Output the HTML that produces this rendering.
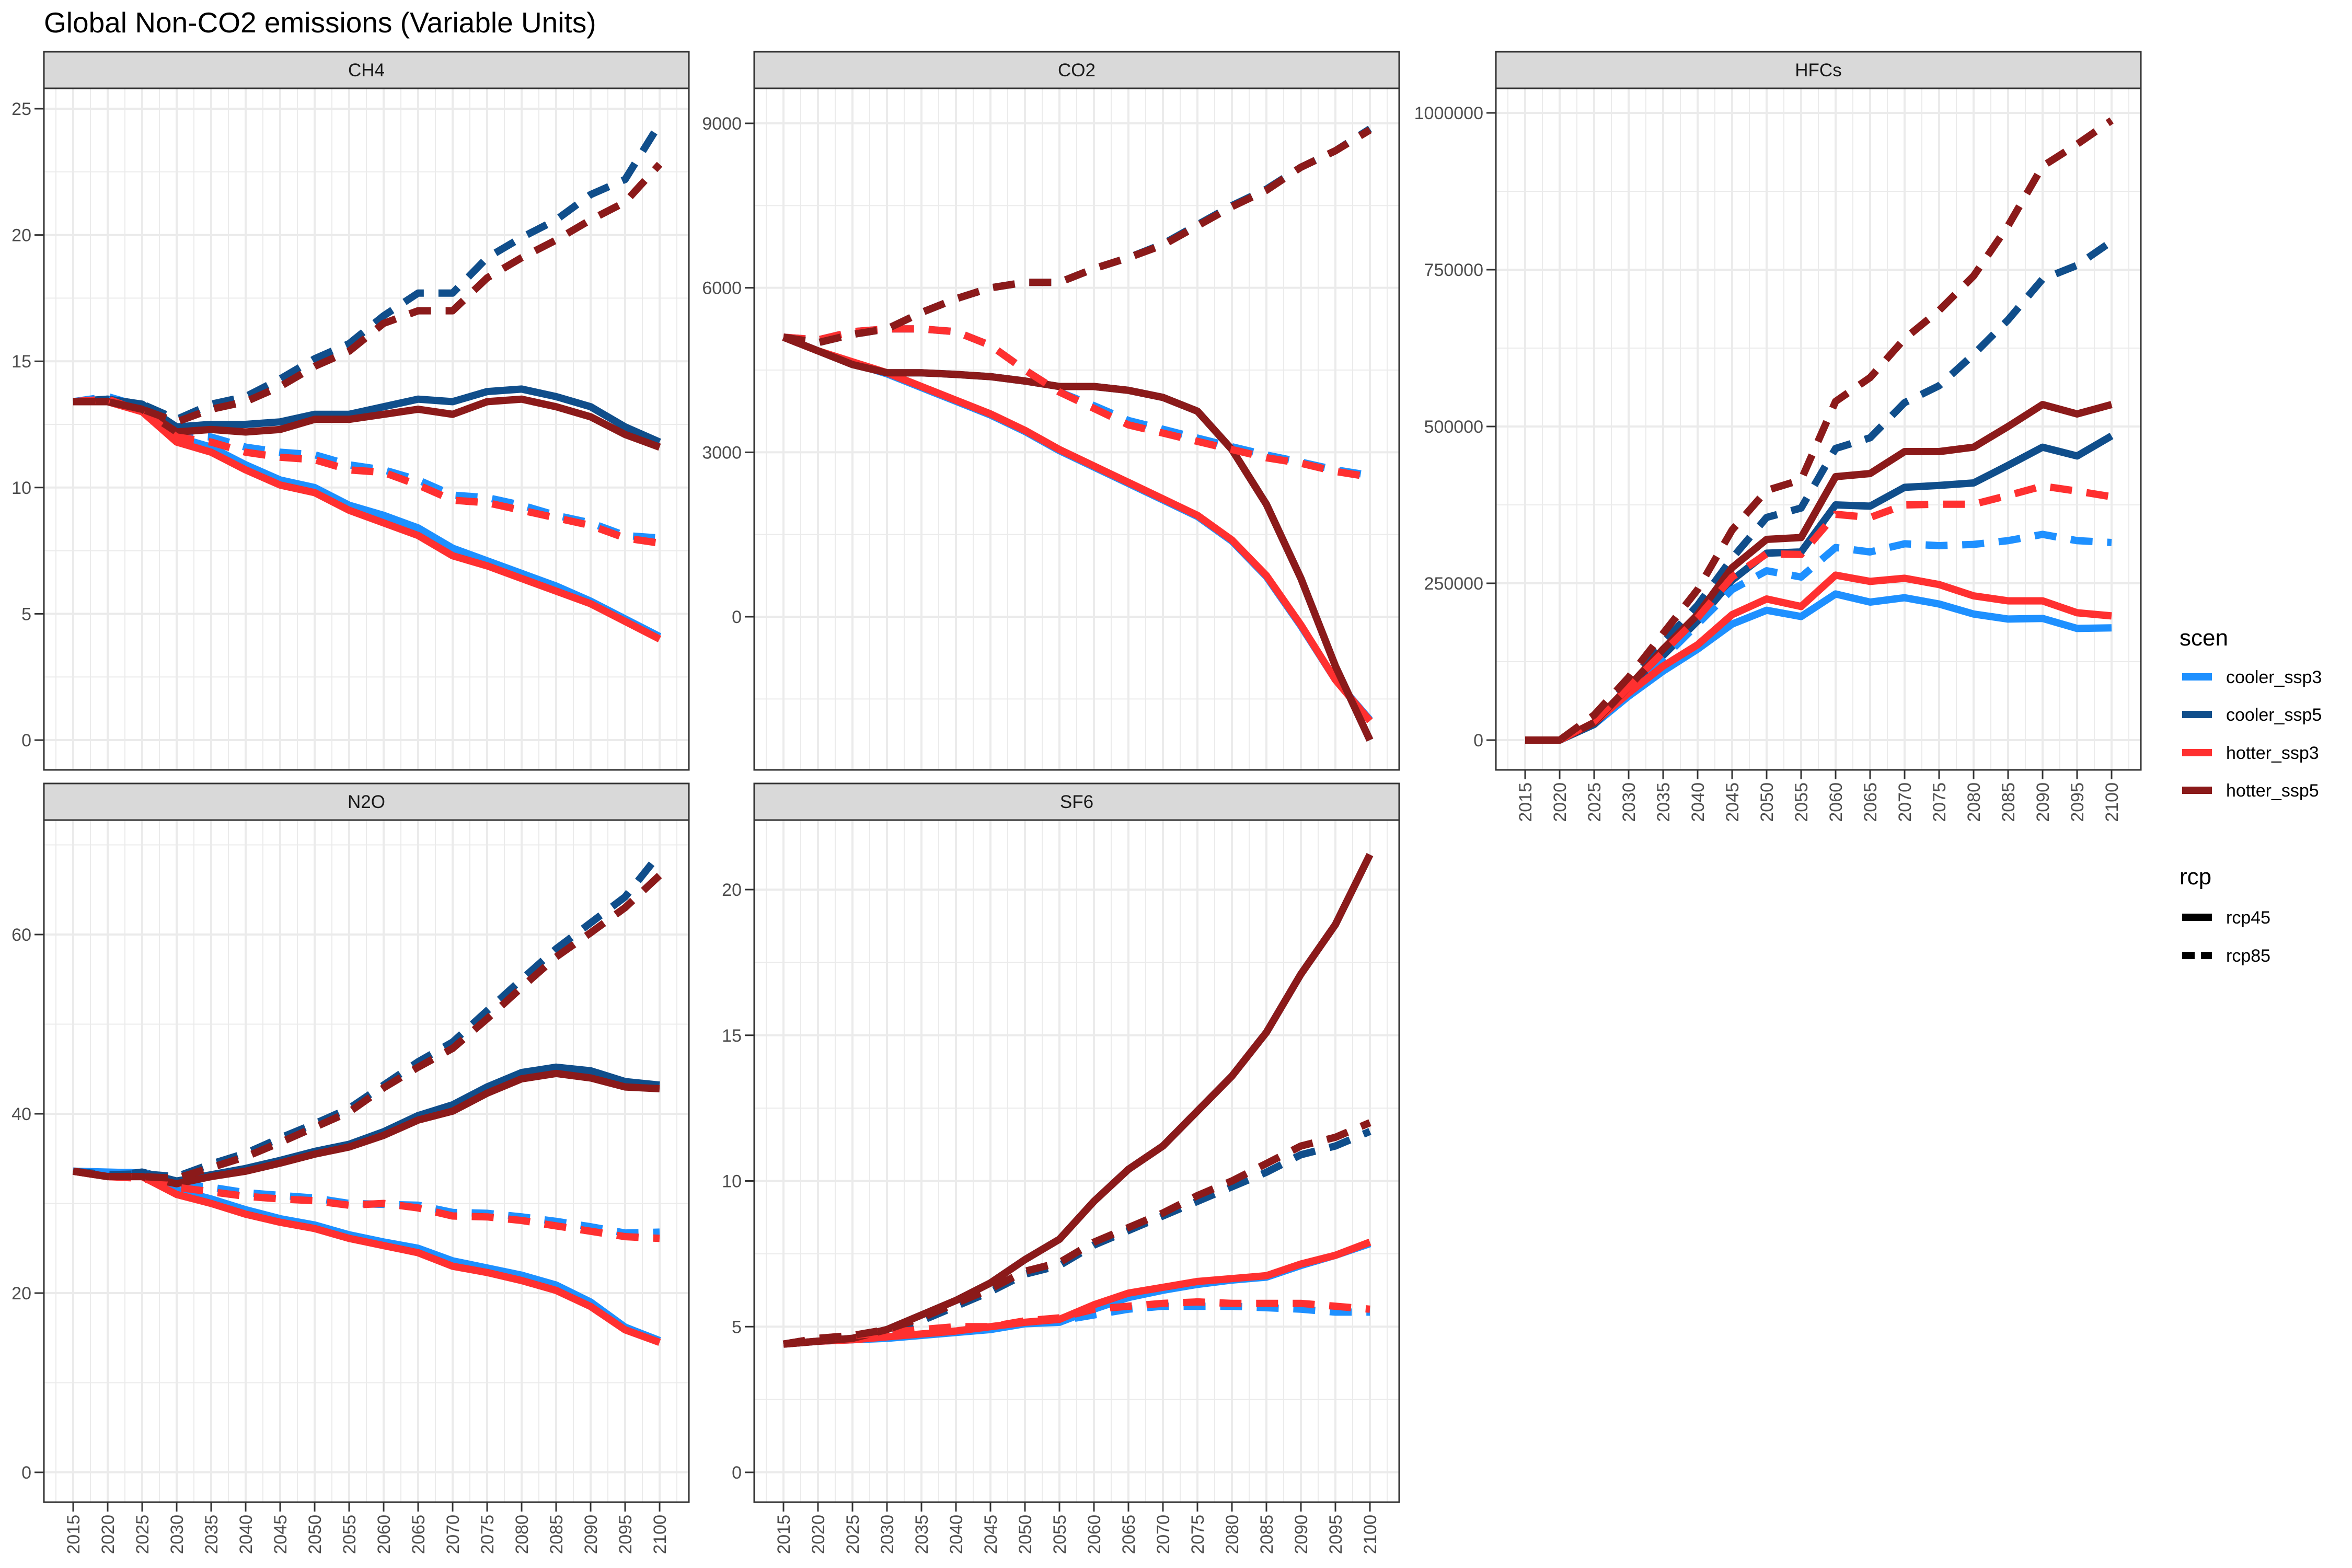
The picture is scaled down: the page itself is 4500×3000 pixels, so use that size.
<!DOCTYPE html>
<html><head><meta charset="utf-8"><style>
html,body{margin:0;padding:0;background:#fff}
svg{display:block;font-family:"Liberation Sans",sans-serif}
</style></head><body>
<svg id="chart" width="4500" height="3000" viewBox="0 0 4500 3000" xmlns="http://www.w3.org/2000/svg">
<rect width="4500" height="3000" fill="#fff"/>
<text x="84" y="62" font-size="55" fill="#000">Global Non-CO2 emissions (Variable Units)</text>
</svg>
<script>
const years=[2015,2020,2025,2030,2035,2040,2045,2050,2055,2060,2065,2070,2075,2080,2085,2090,2095,2100];
const scenNames=["cooler_ssp3","cooler_ssp5","hotter_ssp3","hotter_ssp5"];
const rcpNames=["rcp45","rcp85"];
// CH4
const ch4_cooler_ssp3_rcp45=[13.4,13.5,13.2,12.0,11.6,10.9,10.3,10.0,9.3,8.9,8.4,7.6,7.1,6.6,6.1,5.5,4.8,4.1];
const ch4_hotter_ssp3_rcp45=[13.4,13.4,13.0,11.8,11.4,10.7,10.1,9.8,9.1,8.6,8.1,7.3,6.9,6.4,5.9,5.4,4.7,4.0];
const ch4_cooler_ssp5_rcp45=[13.4,13.5,13.3,12.4,12.5,12.5,12.6,12.9,12.9,13.2,13.5,13.4,13.8,13.9,13.6,13.2,12.4,11.8];
const ch4_hotter_ssp5_rcp45=[13.4,13.4,13.1,12.2,12.3,12.2,12.3,12.7,12.7,12.9,13.1,12.9,13.4,13.5,13.2,12.8,12.1,11.6];
const ch4_cooler_ssp3_rcp85=[13.4,13.6,13.2,12.1,12.0,11.6,11.4,11.3,10.9,10.7,10.3,9.7,9.6,9.3,8.9,8.6,8.1,8.0];
const ch4_hotter_ssp3_rcp85=[13.4,13.5,13.0,12.0,11.8,11.4,11.2,11.1,10.7,10.6,10.1,9.5,9.4,9.1,8.8,8.5,8.0,7.8];
const ch4_cooler_ssp5_rcp85=[13.4,13.5,13.3,12.7,13.3,13.6,14.3,15.1,15.7,16.8,17.7,17.7,19.1,19.9,20.6,21.6,22.2,24.4];
const ch4_hotter_ssp5_rcp85=[13.4,13.4,13.1,12.6,13.1,13.4,14.0,14.8,15.4,16.5,17.0,17.0,18.3,19.1,19.8,20.6,21.3,22.8];
// CO2
const co2_cooler_ssp3_rcp45=[5100,4850,4630,4430,4180,3930,3680,3380,3030,2730,2430,2130,1830,1380,730,-170,-1150,-1880];
const co2_hotter_ssp3_rcp45=[5100,4850,4650,4450,4200,3950,3700,3400,3050,2750,2450,2150,1850,1400,750,-150,-1150,-1900];
const co2_cooler_ssp5_rcp45=[5100,4850,4600,4450,4450,4420,4380,4300,4200,4200,4130,4000,3750,3050,2050,700,-900,-2250];
const co2_hotter_ssp5_rcp45=[5100,4850,4600,4450,4450,4420,4380,4300,4200,4200,4130,4000,3750,3050,2050,700,-900,-2250];
const co2_cooler_ssp3_rcp85=[5100,5050,5200,5250,5250,5200,4950,4500,4100,3850,3580,3420,3260,3100,2950,2820,2680,2580];
const co2_hotter_ssp3_rcp85=[5100,5050,5200,5250,5250,5200,4950,4500,4100,3800,3500,3350,3200,3050,2900,2800,2650,2550];
const co2_cooler_ssp5_rcp85=[5100,5000,5150,5250,5550,5800,6000,6100,6100,6350,6550,6800,7150,7500,7800,8200,8500,8900];
const co2_hotter_ssp5_rcp85=[5100,5000,5150,5250,5550,5800,6000,6100,6100,6350,6550,6780,7130,7480,7780,8200,8500,8880];
// HFCs
const hfc_cooler_ssp3_rcp45=[0,0,25000,70000,110000,145000,185000,207000,197000,233000,220000,227000,217000,201000,193000,194000,178000,179000];
const hfc_hotter_ssp3_rcp45=[0,0,28000,75000,118000,152000,200000,225000,213000,263000,253000,258000,248000,230000,222000,222000,203000,198000];
const hfc_cooler_ssp5_rcp45=[0,0,25000,80000,135000,190000,255000,298000,300000,375000,373000,403000,406000,410000,438000,467000,453000,485000];
const hfc_hotter_ssp5_rcp45=[0,0,28000,85000,145000,200000,275000,320000,323000,420000,425000,460000,460000,467000,500000,535000,520000,535000];
const hfc_cooler_ssp3_rcp85=[0,0,30000,80000,130000,185000,240000,270000,260000,307000,300000,313000,310000,312000,318000,328000,318000,315000];
const hfc_hotter_ssp3_rcp85=[0,0,30000,85000,140000,195000,260000,297000,296000,360000,355000,375000,376000,376000,390000,405000,397000,388000];
const hfc_cooler_ssp5_rcp85=[0,0,35000,90000,155000,215000,290000,355000,370000,465000,482000,538000,565000,615000,670000,735000,757000,795000];
const hfc_hotter_ssp5_rcp85=[0,0,40000,100000,170000,240000,335000,398000,415000,540000,578000,640000,685000,740000,820000,915000,950000,988000];
// N2O
const n2o_cooler_ssp3_rcp45=[33.6,33.5,33.4,31.5,30.5,29.3,28.3,27.6,26.5,25.7,25.0,23.6,22.8,22.0,20.9,19.0,16.2,14.7];
const n2o_hotter_ssp3_rcp45=[33.6,33.0,33.0,31.0,30.0,28.8,27.9,27.2,26.1,25.3,24.5,23.0,22.3,21.4,20.3,18.5,15.9,14.5];
const n2o_cooler_ssp5_rcp45=[33.6,33.0,33.5,32.5,33.2,33.9,34.8,35.8,36.6,38.0,39.8,41.0,43.0,44.6,45.2,44.8,43.6,43.2];
const n2o_hotter_ssp5_rcp45=[33.6,33.0,33.0,32.2,33.0,33.6,34.5,35.5,36.3,37.6,39.3,40.3,42.3,43.9,44.5,44.0,43.0,42.8];
const n2o_cooler_ssp3_rcp85=[33.6,33.4,33.5,32.2,31.8,31.2,30.9,30.6,30.0,29.9,29.8,29.0,28.9,28.5,28.0,27.4,26.7,26.8];
const n2o_hotter_ssp3_rcp85=[33.6,33.0,32.8,31.8,31.3,30.8,30.5,30.3,29.8,30.0,29.5,28.6,28.5,28.1,27.5,26.9,26.3,26.1];
const n2o_cooler_ssp5_rcp85=[33.6,33.2,33.3,33.0,34.4,35.6,37.3,38.9,40.6,43.2,45.8,48.0,51.5,55.0,58.4,61.3,64.2,69.0];
const n2o_hotter_ssp5_rcp85=[33.6,33.0,33.0,32.8,34.0,35.2,36.8,38.5,40.2,42.9,45.2,47.3,50.6,54.1,57.5,60.2,63.0,66.6];
// SF6
const sf6_cooler_ssp3_rcp45=[4.4,4.5,4.55,4.6,4.7,4.8,4.9,5.1,5.15,5.6,6.0,6.25,6.45,6.6,6.7,7.1,7.45,7.85];
const sf6_hotter_ssp3_rcp45=[4.4,4.5,4.55,4.65,4.75,4.85,5.0,5.15,5.25,5.75,6.15,6.35,6.55,6.65,6.75,7.15,7.45,7.9];
const sf6_cooler_ssp5_rcp45=[4.4,4.5,4.6,4.9,5.4,5.9,6.5,7.3,8.0,9.3,10.4,11.2,12.4,13.6,15.1,17.1,18.8,21.2];
const sf6_hotter_ssp5_rcp45=[4.4,4.5,4.6,4.9,5.4,5.9,6.5,7.3,8.0,9.3,10.4,11.2,12.4,13.6,15.1,17.1,18.8,21.2];
const sf6_cooler_ssp3_rcp85=[4.4,4.6,4.6,4.7,4.8,4.9,5.0,5.1,5.2,5.4,5.6,5.7,5.7,5.7,5.65,5.6,5.5,5.5];
const sf6_hotter_ssp3_rcp85=[4.4,4.6,4.7,4.8,4.9,5.0,5.0,5.2,5.3,5.6,5.7,5.8,5.85,5.8,5.8,5.8,5.7,5.6];
const sf6_cooler_ssp5_rcp85=[4.4,4.6,4.6,4.8,5.2,5.7,6.2,6.8,7.1,7.8,8.3,8.8,9.3,9.8,10.3,10.9,11.2,11.7];
const sf6_hotter_ssp5_rcp85=[4.4,4.6,4.7,4.9,5.3,5.8,6.3,6.9,7.2,7.9,8.4,8.9,9.5,10.0,10.6,11.2,11.5,12.0];

const ch4Ticks=[0,5,10,15,20,25];
const co2Ticks=[0,3000,6000,9000];
const hfcTicks=[0,250000,500000,750000,1000000];
const n2oTicks=[0,20,40,60];
const sf6Ticks=[0,5,10,15,20];
const legendScenLabels=["cooler_ssp3","cooler_ssp5","hotter_ssp3","hotter_ssp5"];
const legendRcpLabels=["rcp45","rcp85"];

const colors={cooler_ssp3:"#1e90ff",cooler_ssp5:"#104e8b",hotter_ssp3:"#ff3030",hotter_ssp5:"#8b1a1a"};
const NS="http://www.w3.org/2000/svg";
const svg=document.getElementById("chart");
function mk(tag,attrs,parent){const e=document.createElementNS(NS,tag);for(const k in attrs)e.setAttribute(k,attrs[k]);(parent||svg).appendChild(e);return e;}

const panels=[
 {key:"ch4",title:"CH4",x:84,stripTop:99,top:169,bottom:1473,ticks:ch4Ticks,ref:[0,1416,25,208],xlabels:false,
  series:{cooler_ssp3_rcp45:ch4_cooler_ssp3_rcp45,hotter_ssp3_rcp45:ch4_hotter_ssp3_rcp45,cooler_ssp5_rcp45:ch4_cooler_ssp5_rcp45,hotter_ssp5_rcp45:ch4_hotter_ssp5_rcp45,cooler_ssp3_rcp85:ch4_cooler_ssp3_rcp85,hotter_ssp3_rcp85:ch4_hotter_ssp3_rcp85,cooler_ssp5_rcp85:ch4_cooler_ssp5_rcp85,hotter_ssp5_rcp85:ch4_hotter_ssp5_rcp85}},
 {key:"co2",title:"CO2",x:1443,stripTop:99,top:169,bottom:1473,ticks:co2Ticks,ref:[0,1180,9000,236],xlabels:false,
  series:{cooler_ssp3_rcp45:co2_cooler_ssp3_rcp45,hotter_ssp3_rcp45:co2_hotter_ssp3_rcp45,cooler_ssp5_rcp45:co2_cooler_ssp5_rcp45,hotter_ssp5_rcp45:co2_hotter_ssp5_rcp45,cooler_ssp3_rcp85:co2_cooler_ssp3_rcp85,hotter_ssp3_rcp85:co2_hotter_ssp3_rcp85,cooler_ssp5_rcp85:co2_cooler_ssp5_rcp85,hotter_ssp5_rcp85:co2_hotter_ssp5_rcp85}},
 {key:"hfc",title:"HFCs",x:2862,stripTop:99,top:169,bottom:1473,ticks:hfcTicks,ref:[0,1416,1000000,216],xlabels:true,
  series:{cooler_ssp3_rcp45:hfc_cooler_ssp3_rcp45,hotter_ssp3_rcp45:hfc_hotter_ssp3_rcp45,cooler_ssp5_rcp45:hfc_cooler_ssp5_rcp45,hotter_ssp5_rcp45:hfc_hotter_ssp5_rcp45,cooler_ssp3_rcp85:hfc_cooler_ssp3_rcp85,hotter_ssp3_rcp85:hfc_hotter_ssp3_rcp85,cooler_ssp5_rcp85:hfc_cooler_ssp5_rcp85,hotter_ssp5_rcp85:hfc_hotter_ssp5_rcp85}},
 {key:"n2o",title:"N2O",x:84,stripTop:1499,top:1569,bottom:2874,ticks:n2oTicks,ref:[0,2817,60,1788],xlabels:true,
  series:{cooler_ssp3_rcp45:n2o_cooler_ssp3_rcp45,hotter_ssp3_rcp45:n2o_hotter_ssp3_rcp45,cooler_ssp5_rcp45:n2o_cooler_ssp5_rcp45,hotter_ssp5_rcp45:n2o_hotter_ssp5_rcp45,cooler_ssp3_rcp85:n2o_cooler_ssp3_rcp85,hotter_ssp3_rcp85:n2o_hotter_ssp3_rcp85,cooler_ssp5_rcp85:n2o_cooler_ssp5_rcp85,hotter_ssp5_rcp85:n2o_hotter_ssp5_rcp85}},
 {key:"sf6",title:"SF6",x:1443,stripTop:1499,top:1569,bottom:2874,ticks:sf6Ticks,ref:[0,2817,20,1702],xlabels:true,
  series:{cooler_ssp3_rcp45:sf6_cooler_ssp3_rcp45,hotter_ssp3_rcp45:sf6_hotter_ssp3_rcp45,cooler_ssp5_rcp45:sf6_cooler_ssp5_rcp45,hotter_ssp5_rcp45:sf6_hotter_ssp5_rcp45,cooler_ssp3_rcp85:sf6_cooler_ssp3_rcp85,hotter_ssp3_rcp85:sf6_hotter_ssp3_rcp85,cooler_ssp5_rcp85:sf6_cooler_ssp5_rcp85,hotter_ssp5_rcp85:sf6_hotter_ssp5_rcp85}}
];
const W=1234;
const order=["cooler_ssp3_rcp45","cooler_ssp5_rcp45","cooler_ssp3_rcp85","cooler_ssp5_rcp85","hotter_ssp3_rcp45","hotter_ssp5_rcp45","hotter_ssp3_rcp85","hotter_ssp5_rcp85"];

panels.forEach(p=>{
  const g=mk("g",{});
  
  
  const x0=p.x,x1=p.x+W;
  const xs=y=>x0+56+(y-2015)/85*1122;
  const [v0,py0,v1,py1]=p.ref;
  const ys=v=>py0+(v-v0)/(v1-v0)*(py1-py0);
  // clip
  const cp=mk("clipPath",{id:"clip-"+p.key},g);
  mk("rect",{x:x0,y:p.top,width:W,height:p.bottom-p.top},cp);
  // minor grid
  const step=p.ticks[1]-p.ticks[0];
  for(let i=-1;i<p.ticks.length;i++){const v=p.ticks[0]+(i+0.5)*step;const yy=ys(v);if(yy>p.top&&yy<p.bottom){const l=mk("line",{x1:x0,x2:x1,y1:yy,y2:yy,stroke:"#ebebeb","stroke-width":2},g);}}
  years.forEach(y=>{const xx=xs(y)+2.5/85*1122;if(xx<x1){mk("line",{x1:xx,x2:xx,y1:p.top,y2:p.bottom,stroke:"#ebebeb","stroke-width":2},g);}});
  const xm=xs(2015)-2.5/85*1122;mk("line",{x1:xm,x2:xm,y1:p.top,y2:p.bottom,stroke:"#ebebeb","stroke-width":2},g);
  // major grid
  p.ticks.forEach(t=>{const yy=ys(t);const l=mk("line",{x1:x0,x2:x1,y1:yy,y2:yy,stroke:"#ebebeb","stroke-width":4},g);});
  years.forEach(y=>{const xx=xs(y);mk("line",{x1:xx,x2:xx,y1:p.top,y2:p.bottom,stroke:"#ebebeb","stroke-width":4},g);});
  // series
  const sg=mk("g",{"clip-path":"url(#clip-"+p.key+")"},g);
  order.forEach(k=>{
    const vals=p.series[k];const scen=k.slice(0,11);const dashed=k.endsWith("rcp85");
    const d=vals.map((v,i)=>(i?"L":"M")+xs(years[i]).toFixed(1)+","+ys(v).toFixed(1)).join(" ");
    const path=mk("path",{d:d,fill:"none",stroke:colors[scen],"stroke-width":14,"stroke-linejoin":"round","stroke-linecap":"butt"},sg);
    if(dashed)path.setAttribute("stroke-dasharray","42,28");
    
    
  });
  // border
  const b=mk("rect",{x:x0,y:p.top,width:W,height:p.bottom-p.top,fill:"none",stroke:"#333","stroke-width":3},g);
  
  
  // strip
  const s=mk("rect",{x:x0,y:p.stripTop,width:W,height:p.top-p.stripTop,fill:"#d9d9d9",stroke:"#333","stroke-width":3},g);
  
  
  const st=mk("text",{x:x0+W/2,y:(p.stripTop+p.top)/2+12,"text-anchor":"middle","font-size":35,fill:"#1a1a1a"},g);
  st.textContent=p.title;
  
  
  // y ticks
  p.ticks.forEach(t=>{const yy=ys(t);mk("line",{x1:x0-18,x2:x0,y1:yy,y2:yy,stroke:"#333","stroke-width":3},g);
    const tx=mk("text",{x:x0-24,y:yy+12,"text-anchor":"end","font-size":34,fill:"#4d4d4d"},g);tx.textContent=String(t);
    
    });
  if(p.xlabels){
    years.forEach(y=>{const xx=xs(y);mk("line",{x1:xx,x2:xx,y1:p.bottom,y2:p.bottom+18,stroke:"#333","stroke-width":3},g);
      const tx=mk("text",{x:0,y:0,"text-anchor":"end","font-size":34,fill:"#4d4d4d",transform:"translate("+(xx+12)+","+(p.bottom+24)+") rotate(-90)"},g);
      tx.textContent=String(y);
      
      });
  }
});

// legend
const lg=mk("g",{});


const lt=mk("text",{x:4170,y:1235,"font-size":44,fill:"#000"},lg);lt.textContent="scen";


const scenY=[1295,1367,1440,1512];
legendScenLabels.forEach((n,i)=>{
  const l=mk("line",{x1:4175,x2:4232,y1:scenY[i],y2:scenY[i],stroke:colors[n],"stroke-width":14},lg);
  
  
  const t=mk("text",{x:4259,y:scenY[i]+12,"font-size":34,fill:"#000"},lg);t.textContent=n;
  
  
});
const rt=mk("text",{x:4170,y:1692,"font-size":44,fill:"#000"},lg);rt.textContent="rcp";


const rcpY=[1755,1828];
legendRcpLabels.forEach((n,i)=>{
  const l=mk("line",{x1:4175,x2:4232,y1:rcpY[i],y2:rcpY[i],stroke:"#000","stroke-width":14},lg);
  if(i===1)l.setAttribute("stroke-dasharray","24,12");
  
  
  const t=mk("text",{x:4259,y:rcpY[i]+12,"font-size":34,fill:"#000"},lg);t.textContent=n;
  
  
});
</script>
</body></html>
